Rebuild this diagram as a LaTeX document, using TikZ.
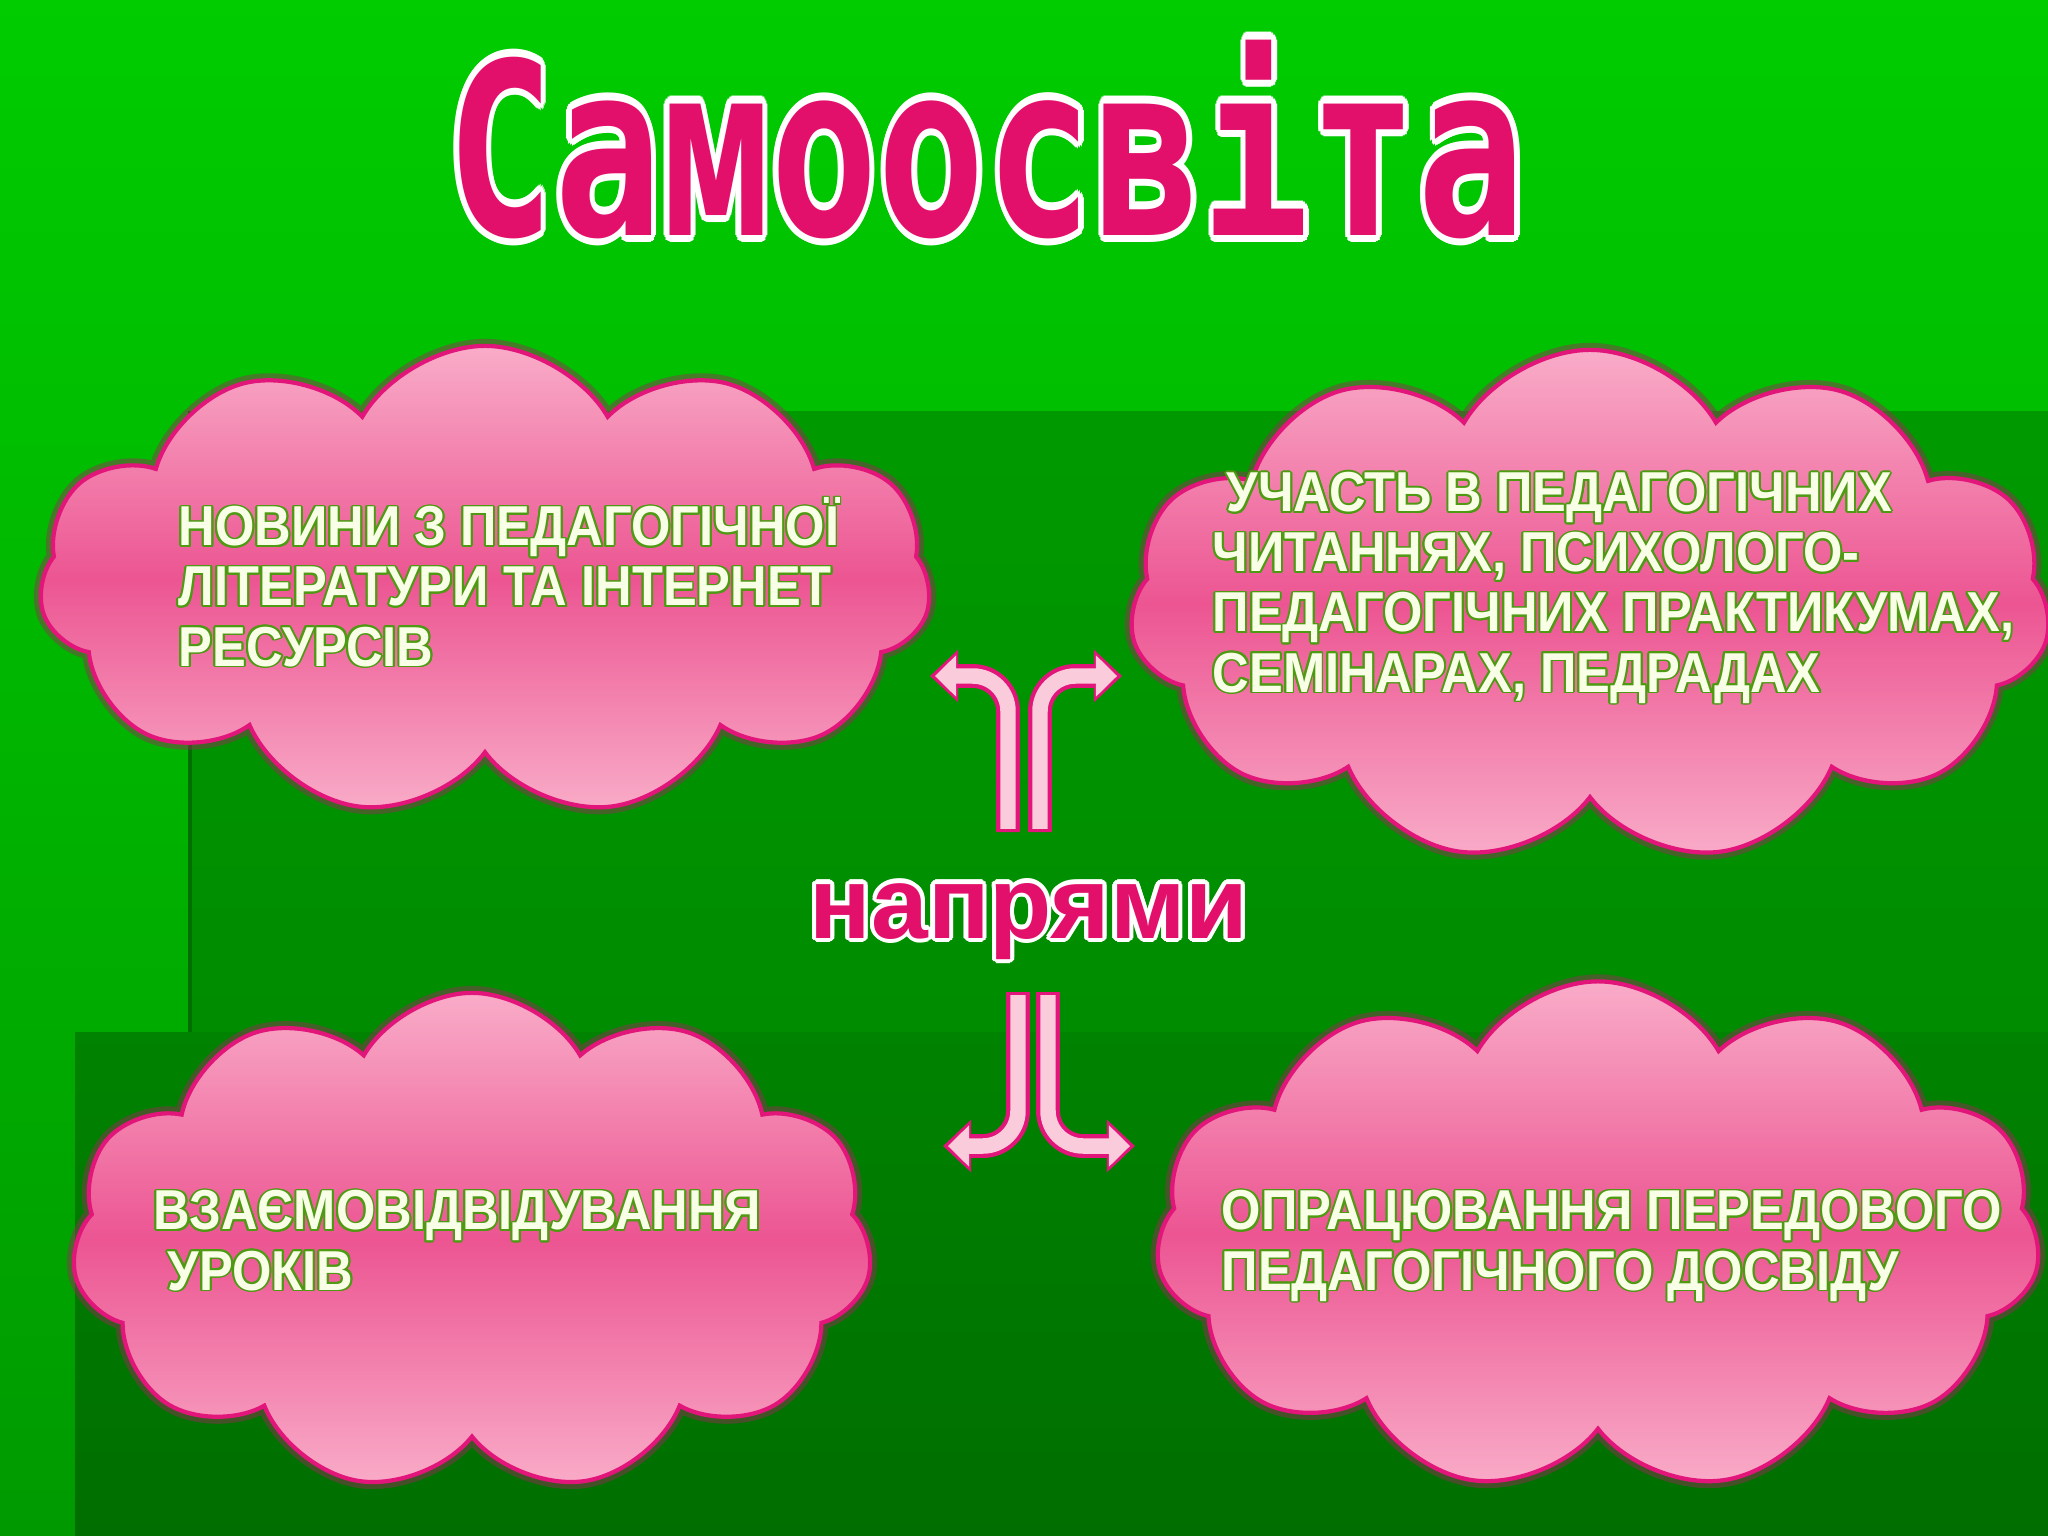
\documentclass[tikz,border=0pt]{standalone}
\usepackage{fontspec}
\setmainfont{Liberation Sans}
\newfontfamily\cloudfont[FakeStretch=0.9]{Liberation Sans}
\newfontfamily\titlefont{DejaVu Sans Mono}
\usepackage{contour}
\contournumber{16}
\usetikzlibrary{shapes.symbols,arrows.meta,positioning}

\definecolor{bgtop}{HTML}{00CC00}
\definecolor{bgbot}{HTML}{009A00}
\definecolor{bgmidtop}{HTML}{009A00}
\definecolor{bgmidbot}{HTML}{008000}
\definecolor{bglowtop}{HTML}{008300}
\definecolor{bglowbot}{HTML}{006E00}
\definecolor{cloudtop}{HTML}{F9ACC8}
\definecolor{cloudmid}{HTML}{EC5592}
\definecolor{cloudedge}{HTML}{E2157A}
\definecolor{cloudglow}{HTML}{9A2A5A}
\definecolor{titlepink}{HTML}{E3106B}
\definecolor{arrowfill}{HTML}{F9CBDB}
\definecolor{textgreen}{HTML}{4E9A12}
\definecolor{textwhite}{HTML}{F8FFE6}

\newcommand\cloudline[1]{\contourlength{0.55pt}\contour{textgreen}{#1}}

\tikzset{
  cloudbox/.style={cloud, cloud puffs=11, cloud puff arc=120, cloud ignores aspect,
    draw=cloudedge, line width=1.2pt, top color=cloudtop, bottom color=cloudtop,
    middle color=cloudmid, inner sep=0pt,
    preaction={draw=cloudglow, draw opacity=0.45, line width=4pt}},
  cloudtext/.style={anchor=base west, inner sep=0pt, align=left, text=textwhite,
    font=\cloudfont\bfseries\fontsize{16pt}{17.07pt}\selectfont},
  turnout/.style={draw=cloudedge, line width=6.8pt, rounded corners=10pt,
    -{Triangle[width=14.5pt,length=8pt]}},
  turnin/.style={draw=arrowfill, line width=4.4pt, rounded corners=10pt,
    shorten <=0.9pt, shorten >=1.4pt, -{Triangle[width=11.4pt,length=6pt]}}
}

\begin{document}
\begin{tikzpicture}[x=0.01cm, y=-0.01cm]
  \useasboundingbox (0,0) rectangle (2048,1536);
  % background
  \fill[top color=bgtop, bottom color=bgbot] (0,0) rectangle (2048,1536);
  \fill[top color=bgmidtop, bottom color=bgmidbot] (190,411) rectangle (2048,1536);
  \fill[top color=bglowtop, bottom color=bglowbot] (75,1032) rectangle (2048,1536);
  \draw[bglowbot, line width=1.2pt] (190,411) -- (190,1032);

  % title
  \node[anchor=base, inner sep=0pt, text=titlepink,
        font=\titlefont\bfseries\fontsize{51pt}{51pt}\selectfont] (title) at (986,235)
    {\scalebox{1}[1.34]{\contourlength{1.5pt}\contour{white}{Самоосвіта}}};

  % clouds
  \node[cloudbox, minimum width=8.91cm, minimum height=4.70cm] (news)  at (485,581) {};
  \node[cloudbox, minimum width=9.20cm, minimum height=5.12cm] (part)  at (1590,606) {};
  \node[cloudbox, minimum width=8.00cm, minimum height=4.98cm] (visit) at (472,1242) {};
  \node[cloudbox, minimum width=8.84cm, minimum height=5.09cm] (study) at (1598,1236) {};

  % base anchor sits on the last line
  \node[cloudtext] (newsT) at (178,666)
    {\cloudline{НОВИНИ З ПЕДАГОГІЧНОЇ}\\\cloudline{ЛІТЕРАТУРИ ТА  ІНТЕРНЕТ}\\\cloudline{РЕСУРСІВ}};
  \node[cloudtext] (partT) at (1212,692)
    {\cloudline{\ УЧАСТЬ В ПЕДАГОГІЧНИХ}\\\cloudline{ЧИТАННЯХ, ПСИХОЛОГО-}\\
     \cloudline{ПЕДАГОГІЧНИХ ПРАКТИКУМАХ,}\\\cloudline{СЕМІНАРАХ, ПЕДРАДАХ}};
  \node[cloudtext] (visitT) at (153,1290)
    {\cloudline{ВЗАЄМОВІДВІДУВАННЯ}\\\cloudline{\ УРОКІВ}};
  \node[cloudtext] (studyT) at (1221,1290)
    {\cloudline{ОПРАЦЮВАННЯ ПЕРЕДОВОГО}\\\cloudline{ПЕДАГОГІЧНОГО ДОСВІДУ}};

  % directions
  \node[anchor=base, inner sep=0pt, text=titlepink,
        font=\bfseries\fontsize{29pt}{29pt}\selectfont] (napr) at (1029,938)
    {\contourlength{1.2pt}\contour{white}{напрями}};

  \coordinate (upL) at (1008,832);  \coordinate (tipUL) at (930,676);
  \coordinate (upR) at (1040,832);  \coordinate (tipUR) at (1122,676);
  \coordinate (dnL) at (1018,992);  \coordinate (tipDL) at (943,1146);
  \coordinate (dnR) at (1048,992);  \coordinate (tipDR) at (1135,1146);
  \foreach \s/\t in {upL/tipUL, upR/tipUR, dnL/tipDL, dnR/tipDR} {
    \draw[turnout] (\s) |- (\t);
    \draw[turnin] (\s) |- (\t);
  }
\end{tikzpicture}
\end{document}
